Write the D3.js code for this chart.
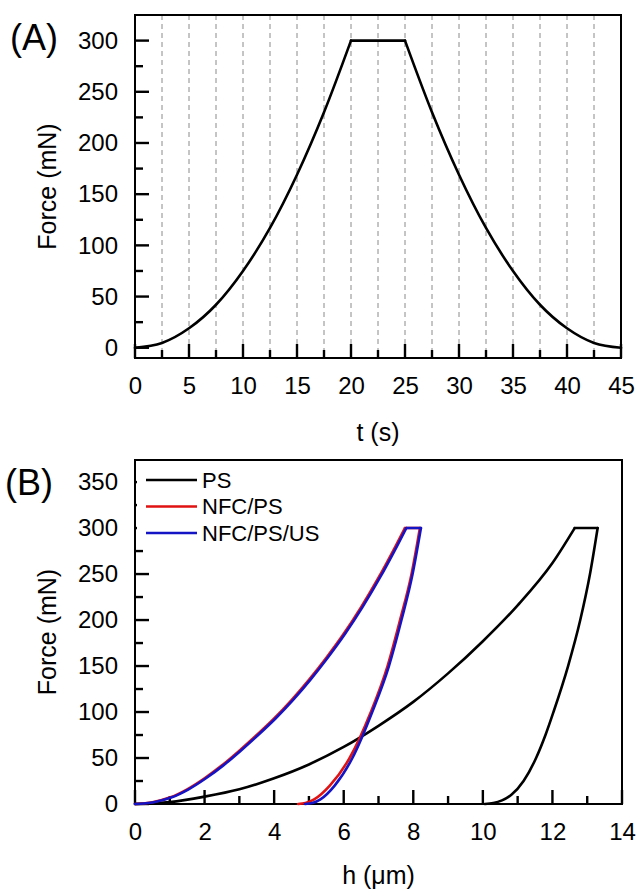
<!DOCTYPE html>
<html>
<head>
<meta charset="utf-8">
<script src="https://cdn.jsdelivr.net/npm/d3@7"></script>
<style>
  body { margin: 0; background: #fff; }
  text { font-family: "Liberation Sans", Arial, sans-serif; fill: #000; }
</style>
</head>
<body>
<div id="chart"></div>
<script>
// ---- data (A): force programme, read every 2.5 s ----
var tLoad = [0, 2.5, 5, 7.5, 10, 12.5, 15, 17.5, 20]
var fLoad = [0, 4.7, 19, 42, 75, 117, 169, 230, 300]
var tHold = [20, 25]
var fHold = [300, 300]
var tUnload = [25, 27.5, 30, 32.5, 35, 37.5, 40, 42.5, 45]
var fUnload = [300, 230, 169, 117, 75, 42, 19, 4.7, 0]

// ---- data (B): force vs depth (h ascending in every branch) ----
var seriesNames = ["PS", "NFC/PS", "NFC/PS/US"]
var seriesColors = ["#000000", "#e01212", "#1414c4"]

var psLoadH = [0, 1, 2, 3, 4, 5, 6, 7, 8, 9, 10, 11, 12, 12.64]
var psLoadF = [0, 2, 8, 16, 28, 43, 62, 85, 111, 142, 177, 216, 262, 300]
var psHoldH = [12.64, 13.3]
var psUnloadH = [10.06, 10.3, 10.55, 10.82, 11.17, 11.53, 11.8, 12.03, 12.45, 12.8, 13.08, 13.3]
var psUnloadF = [0, 1, 4, 10, 25, 50, 75, 100, 150, 200, 250, 300]

var nfcLoadH = [0, 0.5, 1, 1.5, 2, 2.5, 3, 3.5, 4, 4.5, 5, 5.5, 6, 6.5, 7, 7.5, 7.76]
var nfcLoadF = [0, 2, 7, 16, 28, 42, 58, 75, 93, 113, 135, 159, 185, 214, 246, 281, 300]
var nfcHoldH = [7.76, 8.19]
var nfcUnloadH = [4.69, 4.9, 5.15, 5.6, 6.17, 6.78, 7.26, 7.62, 7.95, 8.19]
var nfcUnloadF = [0, 1, 5, 20, 50, 100, 150, 200, 250, 300]

var usLoadH = [0, 0.54, 1.04, 1.54, 2.04, 2.54, 3.04, 3.54, 4.04, 4.54, 5.04, 5.54, 6.04, 6.54, 7.04, 7.54, 7.8]
var usLoadF = [0, 2, 7, 16, 28, 42, 58, 75, 93, 113, 135, 159, 185, 214, 246, 281, 300]
var usHoldH = [7.8, 8.22]
var usUnloadH = [4.89, 5.1, 5.33, 5.74, 6.25, 6.82, 7.3, 7.66, 7.98, 8.22]
var usUnloadF = [0, 1, 5, 20, 50, 100, 150, 200, 250, 300]

var width = 638, height = 892

var svg = d3.select("#chart").append("svg")
  .attr("width", width)
  .attr("height", height)

function zip(a, b) { return a.map(function(v, i) { return [v, b[i]] }) }

// draws ticks, labels and frame of one panel
function drawAxes(x, y, xMajor, xMinor, yMajor, yMinor, xTitle, xTitleY, panel, panelX, panelY) {
  var x0 = x.range()[0], x1 = x.range()[1]
  var y0 = y.range()[0], y1 = y.range()[1]
  var g = svg.append("g")

  // labels from d3 axes
  g.append("g")
    .attr("transform", "translate(0," + y0 + ")")
    .call(d3.axisBottom(x).tickValues(xMajor).tickSize(0).tickPadding(19))
    .call(function(s) { s.select(".domain").remove() })
  g.append("g")
    .attr("transform", "translate(" + x0 + ",0)")
    .call(d3.axisLeft(y).tickValues(yMajor).tickSize(0).tickPadding(17))
    .call(function(s) { s.select(".domain").remove() })
  g.selectAll(".tick text").style("font-size", "24px").attr("font-family", null)

  g.append("rect")
    .attr("x", x0).attr("y", y1)
    .attr("width", x1 - x0).attr("height", y0 - y1)
    .attr("fill", "none").attr("stroke", "#000").attr("stroke-width", 2)

  // inward tick marks, drawn as small filled rects
  var ticks = g.append("g").attr("fill", "#000")
  xMajor.concat(xMinor).forEach(function(v) {
    var len = xMajor.indexOf(v) >= 0 ? 14 : 8
    ticks.append("rect")
      .attr("x", x(v) - 1.2).attr("y", y0 - len)
      .attr("width", 2.4).attr("height", len)
  })
  yMajor.concat(yMinor).forEach(function(v) {
    var len = yMajor.indexOf(v) >= 0 ? 14 : 8
    ticks.append("rect")
      .attr("x", x0).attr("y", y(v) - 1.2)
      .attr("width", len).attr("height", 2.4)
  })

  svg.append("text")
    .attr("x", (x0 + x1) / 2).attr("y", xTitleY)
    .attr("text-anchor", "middle")
    .style("font-size", "25px")
    .html(xTitle)

  svg.append("text")
    .attr("transform", "translate(56," + (y0 + y1) / 2 + ") rotate(-90)")
    .attr("text-anchor", "middle")
    .style("font-size", "25px")
    .text("Force (mN)")

  svg.append("text")
    .attr("x", panelX).attr("y", panelY)
    .style("font-size", "36px")
    .text(panel)
}

// ---------------- panel A ----------------
var xA = d3.scaleLinear().domain([0, 45]).range([135, 621])
var yA = d3.scaleLinear().domain([-10, 325]).range([358, 15])

var gridT = d3.range(2.5, 45, 2.5)
svg.append("g").selectAll("line")
  .data(gridT)
  .enter().append("line")
  .attr("x1", function(d) { return xA(d) }).attr("x2", function(d) { return xA(d) })
  .attr("y1", yA.range()[1]).attr("y2", yA.range()[0])
  .attr("stroke", "#8a8a8a")
  .attr("stroke-width", 1)
  .attr("stroke-dasharray", "5,4")

drawAxes(xA, yA, d3.range(0, 46, 5), d3.range(2.5, 45, 5),
  d3.range(0, 301, 50), d3.range(25, 300, 50), "t (s)", 441, "(A)", 10, 50)

var lineA = d3.line()
  .x(function(d) { return xA(d[0]) })
  .y(function(d) { return yA(d[1]) })
  .curve(d3.curveMonotoneX)

;[zip(tLoad, fLoad), zip(tHold, fHold), zip(tUnload, fUnload)].forEach(function(seg) {
  svg.append("path")
    .attr("d", lineA(seg))
    .attr("fill", "none")
    .attr("stroke", "#000")
    .attr("stroke-width", 2.6)
    .attr("stroke-linecap", "round")
})

// ---------------- panel B ----------------
var xB = d3.scaleLinear().domain([0, 14]).range([135, 622])
var yB = d3.scaleLinear().domain([0, 374]).range([804, 460])

drawAxes(xB, yB, d3.range(0, 15, 2), d3.range(1, 14, 2),
  d3.range(0, 351, 50), d3.range(25, 350, 50), "h (<tspan>\u03bc</tspan>m)", 884, "(B)", 5, 495)

var lineB = d3.line()
  .x(function(d) { return xB(d[0]) })
  .y(function(d) { return yB(d[1]) })
  .curve(d3.curveMonotoneX)

var seriesB = [
  { load: zip(psLoadH, psLoadF), hold: zip(psHoldH, [300, 300]), unload: zip(psUnloadH, psUnloadF) },
  { load: zip(nfcLoadH, nfcLoadF), hold: zip(nfcHoldH, [300, 300]), unload: zip(nfcUnloadH, nfcUnloadF) },
  { load: zip(usLoadH, usLoadF), hold: zip(usHoldH, [300, 300]), unload: zip(usUnloadH, usUnloadF) }
]

seriesB.forEach(function(s, i) {
  var g = svg.append("g")
    .attr("fill", "none")
    .attr("stroke", seriesColors[i])
    .attr("stroke-width", 2.6)
    .attr("stroke-linecap", "round")
    .attr("stroke-linejoin", "round")
  g.append("path").attr("d", lineB(s.load))
  g.append("path").attr("d", lineB(s.hold))
  g.append("path").attr("d", lineB(s.unload))
})

// legend (white box hides the upper y ticks)
var legend = svg.append("g")
legend.append("rect")
  .attr("x", 137).attr("y", 462)
  .attr("width", 185).attr("height", 80)
  .attr("fill", "#fff")
var legendY = d3.scalePoint().domain(seriesNames).range([480, 533])
seriesNames.forEach(function(name, i) {
  legend.append("line")
    .attr("x1", 146).attr("x2", 197)
    .attr("y1", legendY(name)).attr("y2", legendY(name))
    .attr("stroke", seriesColors[i])
    .attr("stroke-width", 2.6)
  legend.append("text")
    .attr("x", 202).attr("y", legendY(name))
    .attr("dy", "0.35em")
    .style("font-size", "22px")
    .text(name)
})
</script>
</body>
</html>
